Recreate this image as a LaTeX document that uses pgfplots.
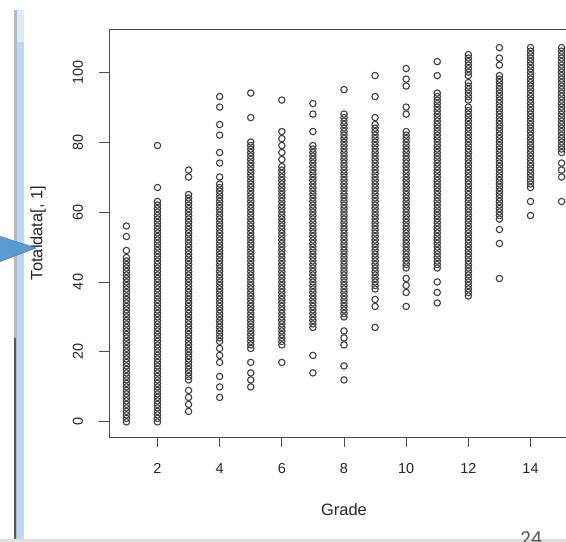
\documentclass[border=0pt]{standalone}
\usepackage{pgfplots}
\pgfplotsset{compat=1.18}
\usepackage{fontspec}
\setmainfont{Liberation Sans}
\newfontfamily\slidefont{Carlito}
\definecolor{stripeblue}{HTML}{BDD7EE}
\definecolor{stripetop}{HTML}{DEEBF7}
\definecolor{arrowblue}{HTML}{5B9BD5}
\definecolor{arrowedge}{HTML}{41719C}
\begin{document}
\begin{tikzpicture}
\path[use as bounding box] (0,0) rectangle (566bp,542bp);
\clip (0,0) rectangle (566bp,542bp);
\fill[gray!55] (14bp,0) rectangle (17.3bp,532bp);
\fill[black!65] (14bp,0) rectangle (15.5bp,204bp);
\fill[stripeblue] (17.3bp,0) rectangle (24bp,500bp);
\fill[stripetop] (17.3bp,500bp) rectangle (24bp,532bp);
\fill[black!12] (0,0) rectangle (566bp,2.5bp);
\begin{axis}[
  at={(109bp,105bp)}, anchor=south west,
  scale only axis, width=470bp, height=408bp,
  xmin=0.44, xmax=15.56, ymin=-4.32, ymax=112.32,
  axis line style={black!70, line width=0.9bp},
  xtick={2,4,...,14}, ytick={0,20,...,100},
  xtick pos=left, ytick pos=left,
  tick align=outside, major tick length=9.5bp,
  tick style={black!70, line width=0.9bp},
  /pgf/number format/assume math mode=true,
  ticklabel style={font=\fontsize{14.5}{17}\selectfont, text=black!85},
  xticklabel style={anchor=center, yshift=-22bp},
  yticklabel style={xshift=-21.5bp, rotate=90, anchor=center},
  xlabel={Grade}, ylabel={Totaldata[, 1]},
  label style={font=\fontsize{16.5}{19}\selectfont, text=black!85},
  xlabel style={at={(axis description cs:0.5,-0.1789)}, anchor=center},
  ylabel style={at={(axis description cs:-0.151,0.5)}, anchor=center},
]
\addplot[only marks, mark=o, mark size=3.2bp, mark options={draw=black!75, line width=1.1bp}] coordinates {
(1,0)(1,1)(1,2)(1,3)(1,4)(1,5)(1,6)(1,7)(1,8)(1,9)(1,10)(1,11)(1,12)(1,13)(1,14)(1,15)(1,16)(1,17)(1,18)(1,19)(1,20)(1,21)(1,22)(1,23)(1,24)(1,25)(1,26)(1,27)(1,28)(1,29)(1,30)(1,31)(1,32)(1,33)(1,34)(1,35)(1,36)(1,37)(1,38)(1,39)(1,40)(1,41)(1,42)(1,43)(1,44)(1,45)(1,46)(1,47)(1,49)(1,53)(1,56)
(2,0)(2,1)(2,2)(2,3)(2,4)(2,5)(2,6)(2,7)(2,8)(2,9)(2,10)(2,11)(2,12)(2,13)(2,14)(2,15)(2,16)(2,17)(2,18)(2,19)(2,20)(2,21)(2,22)(2,23)(2,24)(2,25)(2,26)(2,27)(2,28)(2,29)(2,30)(2,31)(2,32)(2,33)(2,34)(2,35)(2,36)(2,37)(2,38)(2,39)(2,40)(2,41)(2,42)(2,43)(2,44)(2,45)(2,46)(2,47)(2,48)(2,49)(2,50)(2,51)(2,52)(2,53)(2,54)(2,55)(2,56)(2,57)(2,58)(2,59)(2,60)(2,61)(2,62)(2,63)(2,67)(2,79)
(3,3)(3,5)(3,7)(3,9)(3,12)(3,13)(3,14)(3,15)(3,16)(3,17)(3,18)(3,19)(3,20)(3,21)(3,22)(3,23)(3,24)(3,25)(3,26)(3,27)(3,28)(3,29)(3,30)(3,31)(3,32)(3,33)(3,34)(3,35)(3,36)(3,37)(3,38)(3,39)(3,40)(3,41)(3,42)(3,43)(3,44)(3,45)(3,46)(3,47)(3,48)(3,49)(3,50)(3,51)(3,52)(3,53)(3,54)(3,55)(3,56)(3,57)(3,58)(3,59)(3,60)(3,61)(3,62)(3,63)(3,64)(3,65)(3,70)(3,72)
(4,7)(4,10)(4,13)(4,17)(4,19)(4,21)(4,23)(4,24)(4,25)(4,26)(4,27)(4,28)(4,29)(4,30)(4,31)(4,32)(4,33)(4,34)(4,35)(4,36)(4,37)(4,38)(4,39)(4,40)(4,41)(4,42)(4,43)(4,44)(4,45)(4,46)(4,47)(4,48)(4,49)(4,50)(4,51)(4,52)(4,53)(4,54)(4,55)(4,56)(4,57)(4,58)(4,59)(4,60)(4,61)(4,62)(4,63)(4,64)(4,65)(4,66)(4,67)(4,68)(4,70)(4,74)(4,77)(4,82)(4,85)(4,90)(4,93)
(5,10)(5,12)(5,14)(5,17)(5,21)(5,22)(5,23)(5,24)(5,25)(5,26)(5,27)(5,28)(5,29)(5,30)(5,31)(5,32)(5,33)(5,34)(5,35)(5,36)(5,37)(5,38)(5,39)(5,40)(5,41)(5,42)(5,43)(5,44)(5,45)(5,46)(5,47)(5,48)(5,49)(5,50)(5,51)(5,52)(5,53)(5,54)(5,55)(5,56)(5,57)(5,58)(5,59)(5,60)(5,61)(5,62)(5,63)(5,64)(5,65)(5,66)(5,67)(5,68)(5,69)(5,70)(5,71)(5,72)(5,73)(5,74)(5,75)(5,76)(5,77)(5,78)(5,79)(5,80)(5,87)(5,94)
(6,17)(6,22)(6,23)(6,24)(6,25)(6,26)(6,27)(6,28)(6,29)(6,30)(6,31)(6,32)(6,33)(6,34)(6,35)(6,36)(6,37)(6,38)(6,39)(6,40)(6,41)(6,42)(6,43)(6,44)(6,45)(6,46)(6,47)(6,48)(6,49)(6,50)(6,51)(6,52)(6,53)(6,54)(6,55)(6,56)(6,57)(6,58)(6,59)(6,60)(6,61)(6,62)(6,63)(6,64)(6,65)(6,66)(6,67)(6,68)(6,69)(6,70)(6,71)(6,72)(6,73)(6,75)(6,77)(6,79)(6,81)(6,83)(6,92)
(7,14)(7,19)(7,27)(7,28)(7,29)(7,30)(7,31)(7,32)(7,33)(7,34)(7,35)(7,36)(7,37)(7,38)(7,39)(7,40)(7,41)(7,42)(7,43)(7,44)(7,45)(7,46)(7,47)(7,48)(7,49)(7,50)(7,51)(7,52)(7,53)(7,54)(7,55)(7,56)(7,57)(7,58)(7,59)(7,60)(7,61)(7,62)(7,63)(7,64)(7,65)(7,66)(7,67)(7,68)(7,69)(7,70)(7,71)(7,72)(7,73)(7,74)(7,75)(7,76)(7,77)(7,78)(7,79)(7,83)(7,88)(7,91)
(8,12)(8,16)(8,22)(8,24)(8,26)(8,30)(8,31)(8,32)(8,33)(8,34)(8,35)(8,36)(8,37)(8,38)(8,39)(8,40)(8,41)(8,42)(8,43)(8,44)(8,45)(8,46)(8,47)(8,48)(8,49)(8,50)(8,51)(8,52)(8,53)(8,54)(8,55)(8,56)(8,57)(8,58)(8,59)(8,60)(8,61)(8,62)(8,63)(8,64)(8,65)(8,66)(8,67)(8,68)(8,69)(8,70)(8,71)(8,72)(8,73)(8,74)(8,75)(8,76)(8,77)(8,78)(8,79)(8,80)(8,81)(8,82)(8,83)(8,84)(8,85)(8,86)(8,87)(8,88)(8,95)
(9,27)(9,33)(9,35)(9,38)(9,39)(9,40)(9,41)(9,42)(9,43)(9,44)(9,45)(9,46)(9,47)(9,48)(9,49)(9,50)(9,51)(9,52)(9,53)(9,54)(9,55)(9,56)(9,57)(9,58)(9,59)(9,60)(9,61)(9,62)(9,63)(9,64)(9,65)(9,66)(9,67)(9,68)(9,69)(9,70)(9,71)(9,72)(9,73)(9,74)(9,75)(9,76)(9,77)(9,78)(9,79)(9,80)(9,81)(9,82)(9,83)(9,84)(9,85)(9,87)(9,93)(9,99)
(10,33)(10,37)(10,39)(10,41)(10,44)(10,45)(10,46)(10,47)(10,48)(10,49)(10,50)(10,51)(10,52)(10,53)(10,54)(10,55)(10,56)(10,57)(10,58)(10,59)(10,60)(10,61)(10,62)(10,63)(10,64)(10,65)(10,66)(10,67)(10,68)(10,69)(10,70)(10,71)(10,72)(10,73)(10,74)(10,75)(10,76)(10,77)(10,78)(10,79)(10,80)(10,81)(10,82)(10,83)(10,88)(10,90)(10,96)(10,98)(10,101)
(11,34)(11,37)(11,40)(11,44)(11,45)(11,46)(11,47)(11,48)(11,49)(11,50)(11,51)(11,52)(11,53)(11,54)(11,55)(11,56)(11,57)(11,58)(11,59)(11,60)(11,61)(11,62)(11,63)(11,64)(11,65)(11,66)(11,67)(11,68)(11,69)(11,70)(11,71)(11,72)(11,73)(11,74)(11,75)(11,76)(11,77)(11,78)(11,79)(11,80)(11,81)(11,82)(11,83)(11,84)(11,85)(11,86)(11,87)(11,88)(11,89)(11,90)(11,91)(11,92)(11,93)(11,94)(11,99)(11,103)
(12,36)(12,37)(12,38)(12,39)(12,40)(12,41)(12,42)(12,43)(12,44)(12,45)(12,46)(12,47)(12,48)(12,49)(12,50)(12,51)(12,52)(12,53)(12,54)(12,55)(12,56)(12,57)(12,58)(12,59)(12,60)(12,61)(12,62)(12,63)(12,64)(12,65)(12,66)(12,67)(12,68)(12,69)(12,70)(12,71)(12,72)(12,73)(12,74)(12,75)(12,76)(12,77)(12,78)(12,79)(12,80)(12,81)(12,82)(12,83)(12,84)(12,85)(12,86)(12,87)(12,88)(12,89)(12,90)(12,92)(12,93)(12,94)(12,95)(12,96)(12,97)(12,99)(12,100)(12,101)(12,102)(12,103)(12,104)(12,105)
(13,41)(13,51)(13,55)(13,58)(13,59)(13,60)(13,61)(13,62)(13,63)(13,64)(13,65)(13,66)(13,67)(13,68)(13,69)(13,70)(13,71)(13,72)(13,73)(13,74)(13,75)(13,76)(13,77)(13,78)(13,79)(13,80)(13,81)(13,82)(13,83)(13,84)(13,85)(13,86)(13,87)(13,88)(13,89)(13,90)(13,91)(13,92)(13,93)(13,94)(13,95)(13,96)(13,97)(13,98)(13,99)(13,102)(13,104)(13,107)
(14,59)(14,63)(14,67)(14,68)(14,69)(14,70)(14,71)(14,72)(14,73)(14,74)(14,75)(14,76)(14,77)(14,78)(14,79)(14,80)(14,81)(14,82)(14,83)(14,84)(14,85)(14,86)(14,87)(14,88)(14,89)(14,90)(14,91)(14,92)(14,93)(14,94)(14,95)(14,96)(14,97)(14,98)(14,99)(14,100)(14,101)(14,102)(14,103)(14,104)(14,105)(14,106)(14,107)
(15,63)(15,70)(15,72)(15,74)(15,77)(15,78)(15,79)(15,80)(15,81)(15,82)(15,83)(15,84)(15,85)(15,86)(15,87)(15,88)(15,89)(15,90)(15,91)(15,92)(15,93)(15,94)(15,95)(15,96)(15,97)(15,98)(15,99)(15,100)(15,101)(15,102)(15,103)(15,104)(15,105)(15,106)(15,107)
};
\end{axis}
\filldraw[fill=arrowblue, draw=arrowedge, line width=0.4bp] (-1bp,306bp) -- (36bp,294bp) -- (-1bp,280bp) -- cycle;
\node[anchor=base west, inner sep=0pt, text=black!65, font=\slidefont\fontsize{21.5}{24}\selectfont] at (520bp,-3.7bp) {24};
\end{tikzpicture}
\end{document}
